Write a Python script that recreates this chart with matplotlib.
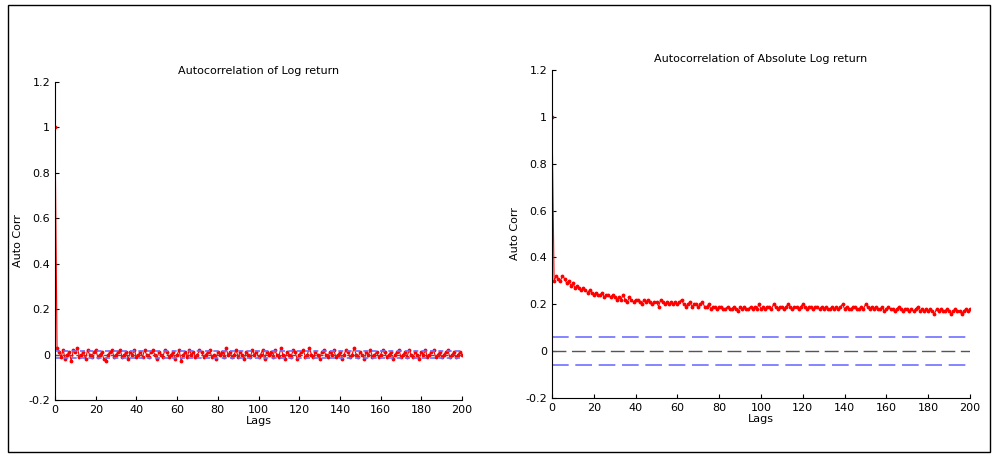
import matplotlib
matplotlib.use("Agg")
import matplotlib.pyplot as plt
from matplotlib.patches import Rectangle

lags = list(range(201))
acf_log = [1.0,
 0.03,0.01,-0.01,0.02,-0.02,0.00,0.01,-0.03,0.02,0.01,
 0.03,-0.01,0.00,0.01,-0.02,0.02,0.00,-0.01,0.01,0.02,
 -0.01,0.00,0.01,-0.02,-0.03,0.00,0.01,0.02,-0.01,0.00,
 0.01,0.02,-0.01,0.00,0.01,-0.02,0.01,0.00,0.02,-0.01,
 0.00,0.01,-0.01,0.02,0.00,-0.01,0.01,0.02,0.00,-0.02,
 0.01,0.00,-0.01,0.02,0.01,-0.01,0.00,0.01,-0.02,0.00,
 0.02,-0.03,0.00,0.01,-0.01,0.02,0.00,0.01,-0.01,0.00,
 0.02,0.01,-0.01,0.00,0.01,0.02,-0.01,0.00,-0.02,0.01,
 0.00,0.01,-0.01,0.03,0.00,0.01,-0.01,0.00,0.02,-0.01,
 0.01,0.00,-0.02,0.01,0.00,-0.01,0.02,0.00,0.01,-0.01,
 0.00,0.02,-0.02,0.01,0.00,0.01,-0.01,0.02,0.00,-0.01,
 0.03,0.00,-0.02,0.01,0.00,-0.01,0.02,0.01,-0.02,0.00,
 0.01,0.02,-0.01,0.00,0.03,0.00,-0.01,0.01,0.00,-0.02,
 0.01,0.02,0.00,-0.01,0.01,0.00,0.02,-0.01,0.00,0.01,
 -0.02,0.00,0.02,0.01,-0.01,0.00,0.03,0.00,-0.01,0.01,
 0.00,-0.02,0.01,0.00,0.02,-0.01,0.00,0.01,-0.01,0.00,
 0.02,0.01,-0.01,0.00,0.01,-0.02,0.00,0.01,0.02,-0.01,
 0.00,0.01,-0.01,0.02,0.00,-0.01,0.01,0.00,-0.02,0.01,
 0.00,0.02,-0.01,0.00,0.01,0.02,-0.01,0.00,0.01,-0.01,
 0.00,0.01,0.02,-0.01,0.00,0.01,-0.01,0.00,0.01,0.00]
acf_abs = [1.0,
 0.30,0.32,0.31,0.30,0.32,0.31,0.29,0.30,0.28,0.29,
 0.27,0.28,0.27,0.26,0.27,0.26,0.25,0.26,0.25,0.24,
 0.25,0.24,0.24,0.25,0.23,0.24,0.24,0.23,0.24,0.23,
 0.22,0.23,0.22,0.24,0.22,0.21,0.23,0.22,0.21,0.22,
 0.22,0.21,0.20,0.22,0.21,0.22,0.21,0.20,0.21,0.21,
 0.19,0.22,0.21,0.20,0.21,0.20,0.21,0.20,0.21,0.20,
 0.21,0.22,0.20,0.19,0.20,0.21,0.19,0.20,0.20,0.19,
 0.20,0.21,0.19,0.19,0.20,0.18,0.19,0.19,0.18,0.19,
 0.19,0.18,0.18,0.19,0.18,0.18,0.19,0.18,0.17,0.19,
 0.18,0.19,0.18,0.18,0.19,0.18,0.19,0.18,0.20,0.18,
 0.19,0.18,0.19,0.19,0.18,0.20,0.19,0.18,0.19,0.19,
 0.18,0.19,0.20,0.19,0.18,0.19,0.19,0.18,0.19,0.20,
 0.19,0.18,0.19,0.19,0.18,0.19,0.19,0.18,0.19,0.18,
 0.19,0.18,0.18,0.19,0.18,0.19,0.18,0.19,0.20,0.18,
 0.19,0.18,0.18,0.19,0.19,0.18,0.18,0.19,0.18,0.20,
 0.19,0.18,0.19,0.18,0.19,0.18,0.18,0.19,0.17,0.18,
 0.19,0.18,0.18,0.17,0.18,0.19,0.18,0.17,0.18,0.18,
 0.17,0.18,0.17,0.18,0.19,0.17,0.18,0.17,0.18,0.17,
 0.18,0.17,0.16,0.18,0.17,0.18,0.17,0.17,0.18,0.17,
 0.16,0.17,0.18,0.17,0.17,0.16,0.17,0.18,0.17,0.18]
band_log = 0.014
band_abs = 0.06

W, H = 997, 457
fig = plt.figure(figsize=(W/100, H/100), dpi=100)
fig.patches.append(Rectangle((8/W, 5/H), 982/W, 447/H, transform=fig.transFigure,
                             fill=False, ec='black', lw=1))

def panel(rect, y, band, title, dash):
    ax = fig.add_axes(rect)
    ax.plot(lags, y, color='red', lw=0.8, marker='.', ms=3.5)
    ax.axhline(0, color='#555555', ls=(0, dash), lw=1)
    ax.axhline(band, color='#7070ff', ls=(0, dash), lw=1.2)
    ax.axhline(-band, color='#7070ff', ls=(0, dash), lw=1.2)
    ax.set_xlim(0, 200); ax.set_ylim(-0.2, 1.2)
    ax.set_xticks(range(0, 201, 20)); ax.set_yticks([-0.2,0,0.2,0.4,0.6,0.8,1,1.2])
    ax.set_yticklabels(['-0.2','0','0.2','0.4','0.6','0.8','1','1.2'])
    ax.tick_params(labelsize=8, direction='in', length=3)
    for s in ['top','right']:
        ax.spines[s].set_visible(False)
    ax.set_title(title, fontsize=8)
    ax.set_xlabel('Lags', fontsize=8, labelpad=1)
    ax.set_ylabel('Auto Corr', fontsize=8)
    return ax

panel([55/W, 1-400/H, 407/W, 318/H], acf_log, band_log, 'Autocorrelation of Log return', [3, 2])
panel([552/W, 1-398/H, 418/W, 328/H], acf_abs, band_abs, 'Autocorrelation of Absolute Log return', [10, 4])
fig.savefig('out.png', dpi=100)
